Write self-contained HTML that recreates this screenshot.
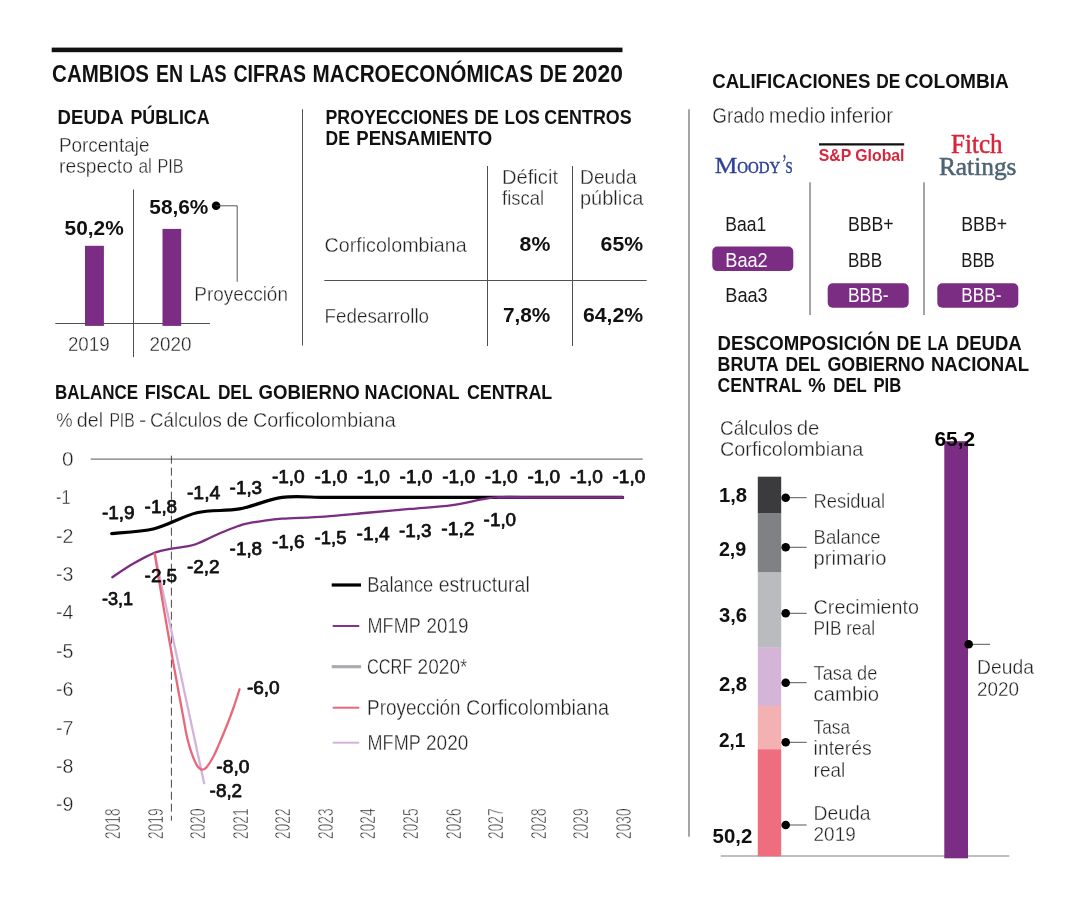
<!DOCTYPE html>
<html lang="es"><head><meta charset="utf-8"><title>Cambios en las cifras macroeconómicas de 2020</title>
<style>html,body{margin:0;padding:0;background:#fff;}body{width:1080px;height:900px;overflow:hidden;font-family:"Liberation Sans",sans-serif;}svg{display:block;will-change:transform;}text{white-space:pre;}</style></head>
<body>
<svg width="1080" height="900" viewBox="0 0 1080 900">
<rect x="51.70" y="47.60" width="570.80" height="4.60" fill="#111"/>
<text x="52.10" y="82.10" font-family="Liberation Sans, sans-serif" font-size="24.22" font-weight="bold" fill="#111" textLength="96.97" lengthAdjust="spacingAndGlyphs">CAMBIOS</text>
<text x="156.00" y="82.10" font-family="Liberation Sans, sans-serif" font-size="24.22" font-weight="bold" fill="#111" textLength="27.04" lengthAdjust="spacingAndGlyphs">EN</text>
<text x="189.60" y="82.10" font-family="Liberation Sans, sans-serif" font-size="24.22" font-weight="bold" fill="#111" textLength="37.03" lengthAdjust="spacingAndGlyphs">LAS</text>
<text x="233.50" y="82.10" font-family="Liberation Sans, sans-serif" font-size="24.22" font-weight="bold" fill="#111" textLength="72.64" lengthAdjust="spacingAndGlyphs">CIFRAS</text>
<text x="312.60" y="82.10" font-family="Liberation Sans, sans-serif" font-size="24.22" font-weight="bold" fill="#111" textLength="220.43" lengthAdjust="spacingAndGlyphs">MACROECONÓMICAS</text>
<text x="539.60" y="82.10" font-family="Liberation Sans, sans-serif" font-size="24.22" font-weight="bold" fill="#111" textLength="27.54" lengthAdjust="spacingAndGlyphs">DE</text>
<text x="572.20" y="82.10" font-family="Liberation Sans, sans-serif" font-size="24.22" font-weight="bold" fill="#111" textLength="50.68" lengthAdjust="spacingAndGlyphs">2020</text>
<text x="57.60" y="123.90" font-family="Liberation Sans, sans-serif" font-size="20.18" font-weight="bold" fill="#111" textLength="66.06" lengthAdjust="spacingAndGlyphs">DEUDA</text>
<text x="130.40" y="123.90" font-family="Liberation Sans, sans-serif" font-size="20.18" font-weight="bold" fill="#111" textLength="79.19" lengthAdjust="spacingAndGlyphs">PÚBLICA</text>
<text x="58.90" y="152.05" font-family="Liberation Sans, sans-serif" font-size="20.74" font-weight="normal" fill="#222" textLength="90.56" lengthAdjust="spacingAndGlyphs" stroke="#fff" stroke-width="0.36">Porcentaje</text>
<text x="59.10" y="172.85" font-family="Liberation Sans, sans-serif" font-size="20.74" font-weight="normal" fill="#222" textLength="73.84" lengthAdjust="spacingAndGlyphs" stroke="#fff" stroke-width="0.36">respecto</text>
<text x="138.50" y="172.85" font-family="Liberation Sans, sans-serif" font-size="20.74" font-weight="normal" fill="#222" textLength="13.44" lengthAdjust="spacingAndGlyphs" stroke="#fff" stroke-width="0.36">al</text>
<text x="157.40" y="172.85" font-family="Liberation Sans, sans-serif" font-size="20.74" font-weight="normal" fill="#222" textLength="26.12" lengthAdjust="spacingAndGlyphs" stroke="#fff" stroke-width="0.36">PIB</text>
<line x1="133.50" y1="189.50" x2="133.50" y2="357.20" stroke="#505050" stroke-width="1"/>
<line x1="55.30" y1="323.50" x2="210.00" y2="323.50" stroke="#505050" stroke-width="1"/>
<rect x="85.00" y="245.80" width="18.90" height="80.10" fill="#7b2c83"/>
<rect x="162.50" y="228.90" width="18.70" height="97.00" fill="#7b2c83"/>
<text x="64.60" y="234.70" font-family="Liberation Sans, sans-serif" font-size="20.8" font-weight="bold" fill="#111" textLength="59.08" lengthAdjust="spacingAndGlyphs">50,2%</text>
<text x="149.30" y="213.90" font-family="Liberation Sans, sans-serif" font-size="20.8" font-weight="bold" fill="#111" textLength="59.08" lengthAdjust="spacingAndGlyphs">58,6%</text>
<circle cx="216.10" cy="205.80" r="4.3" fill="#000"/>
<path d="M216,205.8 H237.2 V281.4" fill="none" stroke="#444" stroke-width="0.9" stroke-linecap="round" stroke-linejoin="round"/>
<text x="194.30" y="300.85" font-family="Liberation Sans, sans-serif" font-size="20.95" font-weight="normal" fill="#222" textLength="93.63" lengthAdjust="spacingAndGlyphs" stroke="#fff" stroke-width="0.36">Proyección</text>
<text x="67.90" y="350.85" font-family="Liberation Sans, sans-serif" font-size="20.32" font-weight="normal" fill="#222" textLength="41.70" lengthAdjust="spacingAndGlyphs" stroke="#fff" stroke-width="0.36">2019</text>
<text x="149.60" y="350.85" font-family="Liberation Sans, sans-serif" font-size="20.32" font-weight="normal" fill="#222" textLength="41.90" lengthAdjust="spacingAndGlyphs" stroke="#fff" stroke-width="0.36">2020</text>
<line x1="302.50" y1="109.30" x2="302.50" y2="345.50" stroke="#505050" stroke-width="1"/>
<text x="325.50" y="124.00" font-family="Liberation Sans, sans-serif" font-size="20.18" font-weight="bold" fill="#111" textLength="142.89" lengthAdjust="spacingAndGlyphs">PROYECCIONES</text>
<text x="474.30" y="124.00" font-family="Liberation Sans, sans-serif" font-size="20.18" font-weight="bold" fill="#111" textLength="24.43" lengthAdjust="spacingAndGlyphs">DE</text>
<text x="504.60" y="124.00" font-family="Liberation Sans, sans-serif" font-size="20.18" font-weight="bold" fill="#111" textLength="35.19" lengthAdjust="spacingAndGlyphs">LOS</text>
<text x="544.30" y="124.00" font-family="Liberation Sans, sans-serif" font-size="20.18" font-weight="bold" fill="#111" textLength="87.27" lengthAdjust="spacingAndGlyphs">CENTROS</text>
<text x="325.50" y="145.20" font-family="Liberation Sans, sans-serif" font-size="20.18" font-weight="bold" fill="#111" textLength="24.33" lengthAdjust="spacingAndGlyphs">DE</text>
<text x="356.30" y="145.20" font-family="Liberation Sans, sans-serif" font-size="20.18" font-weight="bold" fill="#111" textLength="135.83" lengthAdjust="spacingAndGlyphs">PENSAMIENTO</text>
<line x1="487.50" y1="166.00" x2="487.50" y2="346.00" stroke="#505050" stroke-width="1"/>
<line x1="572.50" y1="166.00" x2="572.50" y2="346.00" stroke="#505050" stroke-width="1"/>
<line x1="324.30" y1="280.50" x2="646.70" y2="280.50" stroke="#505050" stroke-width="1"/>
<text x="502.00" y="183.75" font-family="Liberation Sans, sans-serif" font-size="20.95" font-weight="normal" fill="#222" textLength="56.01" lengthAdjust="spacingAndGlyphs" stroke="#fff" stroke-width="0.36">Déficit</text>
<text x="502.00" y="204.75" font-family="Liberation Sans, sans-serif" font-size="20.95" font-weight="normal" fill="#222" textLength="42.03" lengthAdjust="spacingAndGlyphs" stroke="#fff" stroke-width="0.36">fiscal</text>
<text x="580.00" y="183.75" font-family="Liberation Sans, sans-serif" font-size="20.95" font-weight="normal" fill="#222" textLength="56.64" lengthAdjust="spacingAndGlyphs" stroke="#fff" stroke-width="0.36">Deuda</text>
<text x="580.00" y="204.75" font-family="Liberation Sans, sans-serif" font-size="20.95" font-weight="normal" fill="#222" textLength="63.39" lengthAdjust="spacingAndGlyphs" stroke="#fff" stroke-width="0.36">pública</text>
<text x="324.60" y="251.85" font-family="Liberation Sans, sans-serif" font-size="20.95" font-weight="normal" fill="#222" textLength="142.08" lengthAdjust="spacingAndGlyphs" stroke="#fff" stroke-width="0.36">Corficolombiana</text>
<text x="519.60" y="251.00" font-family="Liberation Sans, sans-serif" font-size="20.8" font-weight="bold" fill="#111" textLength="30.76" lengthAdjust="spacingAndGlyphs">8%</text>
<text x="600.60" y="251.00" font-family="Liberation Sans, sans-serif" font-size="20.8" font-weight="bold" fill="#111" textLength="42.53" lengthAdjust="spacingAndGlyphs">65%</text>
<text x="324.60" y="322.85" font-family="Liberation Sans, sans-serif" font-size="20.95" font-weight="normal" fill="#222" textLength="104.44" lengthAdjust="spacingAndGlyphs" stroke="#fff" stroke-width="0.36">Fedesarrollo</text>
<text x="502.90" y="322.30" font-family="Liberation Sans, sans-serif" font-size="20.8" font-weight="bold" fill="#111" textLength="47.51" lengthAdjust="spacingAndGlyphs">7,8%</text>
<text x="582.90" y="322.30" font-family="Liberation Sans, sans-serif" font-size="20.8" font-weight="bold" fill="#111" textLength="60.18" lengthAdjust="spacingAndGlyphs">64,2%</text>
<line x1="689.00" y1="109.30" x2="689.00" y2="836.70" stroke="#8f8f8f" stroke-width="1.6"/>
<text x="712.20" y="87.70" font-family="Liberation Sans, sans-serif" font-size="20.49" font-weight="bold" fill="#111" textLength="158.16" lengthAdjust="spacingAndGlyphs">CALIFICACIONES</text>
<text x="876.30" y="87.70" font-family="Liberation Sans, sans-serif" font-size="20.49" font-weight="bold" fill="#111" textLength="24.07" lengthAdjust="spacingAndGlyphs">DE</text>
<text x="904.80" y="87.70" font-family="Liberation Sans, sans-serif" font-size="20.49" font-weight="bold" fill="#111" textLength="104.14" lengthAdjust="spacingAndGlyphs">COLOMBIA</text>
<text x="712.30" y="122.85" font-family="Liberation Sans, sans-serif" font-size="21.16" font-weight="normal" fill="#222" textLength="52.31" lengthAdjust="spacingAndGlyphs" stroke="#fff" stroke-width="0.36">Grado</text>
<text x="768.70" y="122.85" font-family="Liberation Sans, sans-serif" font-size="21.16" font-weight="normal" fill="#222" textLength="57.03" lengthAdjust="spacingAndGlyphs" stroke="#fff" stroke-width="0.36">medio</text>
<text x="829.90" y="122.85" font-family="Liberation Sans, sans-serif" font-size="21.16" font-weight="normal" fill="#222" textLength="63.38" lengthAdjust="spacingAndGlyphs" stroke="#fff" stroke-width="0.36">inferior</text>
<text x="714.80" y="173.40" font-family="Liberation Serif, serif" font-size="22.15" font-weight="normal" fill="#2d4196" textLength="22.59" lengthAdjust="spacingAndGlyphs" stroke="#2d4196" stroke-width="0.3" stroke-linejoin="round">M</text>
<text x="737.20" y="173.40" font-family="Liberation Serif, serif" font-size="16.35" font-weight="normal" fill="#2d4196" textLength="43.03" lengthAdjust="spacingAndGlyphs" stroke="#2d4196" stroke-width="0.45" stroke-linejoin="round">OODY</text>
<text x="782.00" y="171.60" font-family="Liberation Serif, serif" font-size="25.87" font-weight="normal" fill="#2d4196" textLength="4.81" lengthAdjust="spacingAndGlyphs" stroke="#2d4196" stroke-width="0.3" stroke-linejoin="round">’</text>
<text x="785.40" y="173.40" font-family="Liberation Serif, serif" font-size="16.35" font-weight="normal" fill="#2d4196" textLength="7.20" lengthAdjust="spacingAndGlyphs" stroke="#2d4196" stroke-width="0.45" stroke-linejoin="round">S</text>
<line x1="819.00" y1="144.30" x2="904.20" y2="144.30" stroke="#111" stroke-width="2.3"/>
<text x="818.70" y="161.10" font-family="Liberation Sans, sans-serif" font-size="16.77" font-weight="bold" fill="#d7263d" textLength="85.81" lengthAdjust="spacingAndGlyphs">S&amp;P Global</text>
<text x="951.10" y="153.10" font-family="Liberation Serif, serif" font-size="26.5" font-weight="normal" fill="#d8253b" textLength="51.48" lengthAdjust="spacingAndGlyphs" stroke="#d8253b" stroke-width="0.5" stroke-linejoin="round">Fitch</text>
<text x="938.90" y="174.80" font-family="Liberation Serif, serif" font-size="26.19" font-weight="normal" fill="#4e6473" textLength="77.63" lengthAdjust="spacingAndGlyphs" stroke="#4e6473" stroke-width="0.5" stroke-linejoin="round">Ratings</text>
<line x1="810.00" y1="182.30" x2="810.00" y2="315.00" stroke="#8f8f8f" stroke-width="1.6"/>
<line x1="924.00" y1="182.30" x2="924.00" y2="315.00" stroke="#8f8f8f" stroke-width="1.6"/>
<text x="725.30" y="231.40" font-family="Liberation Sans, sans-serif" font-size="20.91" font-weight="normal" fill="#1a1a1a" textLength="40.83" lengthAdjust="spacingAndGlyphs">Baa1</text>
<rect x="712.30" y="246.50" width="81.00" height="24.60" fill="#7b2c83" rx="5"/>
<text x="725.30" y="266.70" font-family="Liberation Sans, sans-serif" font-size="20.91" font-weight="normal" fill="#fff" textLength="42.43" lengthAdjust="spacingAndGlyphs">Baa2</text>
<text x="725.30" y="302.40" font-family="Liberation Sans, sans-serif" font-size="20.91" font-weight="normal" fill="#1a1a1a" textLength="42.43" lengthAdjust="spacingAndGlyphs">Baa3</text>
<text x="847.90" y="231.40" font-family="Liberation Sans, sans-serif" font-size="20.91" font-weight="normal" fill="#1a1a1a" textLength="45.76" lengthAdjust="spacingAndGlyphs">BBB+</text>
<text x="847.90" y="266.70" font-family="Liberation Sans, sans-serif" font-size="20.91" font-weight="normal" fill="#1a1a1a" textLength="34.23" lengthAdjust="spacingAndGlyphs">BBB</text>
<rect x="827.70" y="283.30" width="81.00" height="24.40" fill="#7b2c83" rx="5"/>
<text x="847.90" y="302.40" font-family="Liberation Sans, sans-serif" font-size="20.91" font-weight="normal" fill="#fff" textLength="40.80" lengthAdjust="spacingAndGlyphs">BBB-</text>
<text x="961.30" y="231.40" font-family="Liberation Sans, sans-serif" font-size="20.91" font-weight="normal" fill="#1a1a1a" textLength="45.76" lengthAdjust="spacingAndGlyphs">BBB+</text>
<text x="961.30" y="266.70" font-family="Liberation Sans, sans-serif" font-size="20.91" font-weight="normal" fill="#1a1a1a" textLength="33.43" lengthAdjust="spacingAndGlyphs">BBB</text>
<rect x="937.30" y="283.30" width="81.00" height="24.40" fill="#7b2c83" rx="5"/>
<text x="961.30" y="302.40" font-family="Liberation Sans, sans-serif" font-size="20.91" font-weight="normal" fill="#fff" textLength="40.10" lengthAdjust="spacingAndGlyphs">BBB-</text>
<text x="717.60" y="349.60" font-family="Liberation Sans, sans-serif" font-size="20.18" font-weight="bold" fill="#111" textLength="172.54" lengthAdjust="spacingAndGlyphs">DESCOMPOSICIÓN</text>
<text x="896.60" y="349.60" font-family="Liberation Sans, sans-serif" font-size="20.18" font-weight="bold" fill="#111" textLength="24.63" lengthAdjust="spacingAndGlyphs">DE</text>
<text x="927.60" y="349.60" font-family="Liberation Sans, sans-serif" font-size="20.18" font-weight="bold" fill="#111" textLength="21.10" lengthAdjust="spacingAndGlyphs">LA</text>
<text x="955.90" y="349.60" font-family="Liberation Sans, sans-serif" font-size="20.18" font-weight="bold" fill="#111" textLength="65.76" lengthAdjust="spacingAndGlyphs">DEUDA</text>
<text x="717.60" y="370.90" font-family="Liberation Sans, sans-serif" font-size="20.18" font-weight="bold" fill="#111" textLength="61.12" lengthAdjust="spacingAndGlyphs">BRUTA</text>
<text x="785.40" y="370.90" font-family="Liberation Sans, sans-serif" font-size="20.18" font-weight="bold" fill="#111" textLength="34.96" lengthAdjust="spacingAndGlyphs">DEL</text>
<text x="827.40" y="370.90" font-family="Liberation Sans, sans-serif" font-size="20.18" font-weight="bold" fill="#111" textLength="97.18" lengthAdjust="spacingAndGlyphs">GOBIERNO</text>
<text x="930.90" y="370.90" font-family="Liberation Sans, sans-serif" font-size="20.18" font-weight="bold" fill="#111" textLength="98.20" lengthAdjust="spacingAndGlyphs">NACIONAL</text>
<text x="717.60" y="392.30" font-family="Liberation Sans, sans-serif" font-size="20.18" font-weight="bold" fill="#111" textLength="84.11" lengthAdjust="spacingAndGlyphs">CENTRAL</text>
<text x="808.30" y="392.30" font-family="Liberation Sans, sans-serif" font-size="20.18" font-weight="bold" fill="#111" textLength="17.44" lengthAdjust="spacingAndGlyphs">%</text>
<text x="833.30" y="392.30" font-family="Liberation Sans, sans-serif" font-size="20.18" font-weight="bold" fill="#111" textLength="33.57" lengthAdjust="spacingAndGlyphs">DEL</text>
<text x="873.40" y="392.30" font-family="Liberation Sans, sans-serif" font-size="20.18" font-weight="bold" fill="#111" textLength="27.83" lengthAdjust="spacingAndGlyphs">PIB</text>
<text x="720.10" y="434.85" font-family="Liberation Sans, sans-serif" font-size="20.95" font-weight="normal" fill="#222" textLength="72.54" lengthAdjust="spacingAndGlyphs" stroke="#fff" stroke-width="0.36">Cálculos</text>
<text x="796.70" y="434.85" font-family="Liberation Sans, sans-serif" font-size="20.95" font-weight="normal" fill="#222" textLength="22.70" lengthAdjust="spacingAndGlyphs" stroke="#fff" stroke-width="0.36">de</text>
<text x="720.00" y="456.25" font-family="Liberation Sans, sans-serif" font-size="20.95" font-weight="normal" fill="#222" textLength="143.38" lengthAdjust="spacingAndGlyphs" stroke="#fff" stroke-width="0.36">Corficolombiana</text>
<line x1="720.70" y1="856.00" x2="1009.30" y2="856.00" stroke="#7f7f7f" stroke-width="1.1"/>
<rect x="944.30" y="441.20" width="23.70" height="417.10" fill="#7b2c83"/>
<text x="934.50" y="445.60" font-family="Liberation Sans, sans-serif" font-size="20.29" font-weight="bold" fill="#000" textLength="40.59" lengthAdjust="spacingAndGlyphs">65,2</text>
<rect x="757.80" y="476.70" width="23.40" height="36.90" fill="#3b3b3d"/>
<rect x="757.80" y="513.30" width="23.40" height="59.30" fill="#808184"/>
<rect x="757.80" y="572.30" width="23.40" height="75.30" fill="#babbbf"/>
<rect x="757.80" y="647.30" width="23.40" height="58.70" fill="#d4b5d8"/>
<rect x="757.80" y="705.70" width="23.40" height="43.90" fill="#f3b1b2"/>
<rect x="757.80" y="749.30" width="23.40" height="107.00" fill="#ee6e7e"/>
<text x="718.90" y="502.20" font-family="Liberation Sans, sans-serif" font-size="19.46" font-weight="bold" fill="#111" textLength="28.15" lengthAdjust="spacingAndGlyphs">1,8</text>
<text x="718.90" y="555.50" font-family="Liberation Sans, sans-serif" font-size="19.46" font-weight="bold" fill="#111" textLength="27.45" lengthAdjust="spacingAndGlyphs">2,9</text>
<text x="718.90" y="622.20" font-family="Liberation Sans, sans-serif" font-size="19.46" font-weight="bold" fill="#111" textLength="28.15" lengthAdjust="spacingAndGlyphs">3,6</text>
<text x="718.90" y="691.20" font-family="Liberation Sans, sans-serif" font-size="19.46" font-weight="bold" fill="#111" textLength="28.15" lengthAdjust="spacingAndGlyphs">2,8</text>
<text x="718.90" y="747.20" font-family="Liberation Sans, sans-serif" font-size="19.46" font-weight="bold" fill="#111" textLength="26.45" lengthAdjust="spacingAndGlyphs">2,1</text>
<text x="712.60" y="842.80" font-family="Liberation Sans, sans-serif" font-size="19.46" font-weight="bold" fill="#111" textLength="39.77" lengthAdjust="spacingAndGlyphs">50,2</text>
<line x1="785.70" y1="497.70" x2="806.70" y2="497.70" stroke="#444" stroke-width="0.9"/>
<circle cx="785.70" cy="497.70" r="4.3" fill="#000"/>
<line x1="785.70" y1="547.30" x2="806.70" y2="547.30" stroke="#444" stroke-width="0.9"/>
<circle cx="785.70" cy="547.30" r="4.3" fill="#000"/>
<line x1="785.70" y1="613.30" x2="806.70" y2="613.30" stroke="#444" stroke-width="0.9"/>
<circle cx="785.70" cy="613.30" r="4.3" fill="#000"/>
<line x1="785.70" y1="682.70" x2="806.70" y2="682.70" stroke="#444" stroke-width="0.9"/>
<circle cx="785.70" cy="682.70" r="4.3" fill="#000"/>
<line x1="785.70" y1="742.30" x2="806.70" y2="742.30" stroke="#444" stroke-width="0.9"/>
<circle cx="785.70" cy="742.30" r="4.3" fill="#000"/>
<line x1="785.70" y1="825.00" x2="806.70" y2="825.00" stroke="#444" stroke-width="0.9"/>
<circle cx="785.70" cy="825.00" r="4.3" fill="#000"/>
<text x="813.60" y="508.45" font-family="Liberation Sans, sans-serif" font-size="20.95" font-weight="normal" fill="#222" textLength="71.42" lengthAdjust="spacingAndGlyphs" stroke="#fff" stroke-width="0.36">Residual</text>
<text x="813.60" y="544.45" font-family="Liberation Sans, sans-serif" font-size="20.95" font-weight="normal" fill="#222" textLength="67.11" lengthAdjust="spacingAndGlyphs" stroke="#fff" stroke-width="0.36">Balance</text>
<text x="813.60" y="565.45" font-family="Liberation Sans, sans-serif" font-size="20.95" font-weight="normal" fill="#222" textLength="72.77" lengthAdjust="spacingAndGlyphs" stroke="#fff" stroke-width="0.36">primario</text>
<text x="813.60" y="614.45" font-family="Liberation Sans, sans-serif" font-size="20.95" font-weight="normal" fill="#222" textLength="105.37" lengthAdjust="spacingAndGlyphs" stroke="#fff" stroke-width="0.36">Crecimiento</text>
<text x="813.60" y="635.15" font-family="Liberation Sans, sans-serif" font-size="20.95" font-weight="normal" fill="#222" textLength="61.42" lengthAdjust="spacingAndGlyphs" stroke="#fff" stroke-width="0.36">PIB real</text>
<text x="813.60" y="680.45" font-family="Liberation Sans, sans-serif" font-size="20.95" font-weight="normal" fill="#222" textLength="63.78" lengthAdjust="spacingAndGlyphs" stroke="#fff" stroke-width="0.36">Tasa de</text>
<text x="813.60" y="701.15" font-family="Liberation Sans, sans-serif" font-size="20.95" font-weight="normal" fill="#222" textLength="65.43" lengthAdjust="spacingAndGlyphs" stroke="#fff" stroke-width="0.36">cambio</text>
<text x="813.60" y="733.85" font-family="Liberation Sans, sans-serif" font-size="20.95" font-weight="normal" fill="#222" textLength="36.36" lengthAdjust="spacingAndGlyphs" stroke="#fff" stroke-width="0.36">Tasa</text>
<text x="813.60" y="755.15" font-family="Liberation Sans, sans-serif" font-size="20.95" font-weight="normal" fill="#222" textLength="58.08" lengthAdjust="spacingAndGlyphs" stroke="#fff" stroke-width="0.36">interés</text>
<text x="813.60" y="776.55" font-family="Liberation Sans, sans-serif" font-size="20.95" font-weight="normal" fill="#222" textLength="31.53" lengthAdjust="spacingAndGlyphs" stroke="#fff" stroke-width="0.36">real</text>
<text x="813.60" y="820.15" font-family="Liberation Sans, sans-serif" font-size="20.95" font-weight="normal" fill="#222" textLength="57.04" lengthAdjust="spacingAndGlyphs" stroke="#fff" stroke-width="0.36">Deuda</text>
<text x="813.60" y="841.15" font-family="Liberation Sans, sans-serif" font-size="20.95" font-weight="normal" fill="#222" textLength="42.11" lengthAdjust="spacingAndGlyphs" stroke="#fff" stroke-width="0.36">2019</text>
<line x1="968.70" y1="644.30" x2="990.00" y2="644.30" stroke="#444" stroke-width="0.9"/>
<circle cx="968.70" cy="644.30" r="4.3" fill="#000"/>
<text x="977.00" y="674.35" font-family="Liberation Sans, sans-serif" font-size="20.95" font-weight="normal" fill="#222" textLength="56.94" lengthAdjust="spacingAndGlyphs" stroke="#fff" stroke-width="0.36">Deuda</text>
<text x="977.00" y="696.05" font-family="Liberation Sans, sans-serif" font-size="20.95" font-weight="normal" fill="#222" textLength="42.01" lengthAdjust="spacingAndGlyphs" stroke="#fff" stroke-width="0.36">2020</text>
<text x="55.10" y="399.30" font-family="Liberation Sans, sans-serif" font-size="20.49" font-weight="bold" fill="#111" textLength="83.07" lengthAdjust="spacingAndGlyphs">BALANCE</text>
<text x="144.70" y="399.30" font-family="Liberation Sans, sans-serif" font-size="20.49" font-weight="bold" fill="#111" textLength="65.68" lengthAdjust="spacingAndGlyphs">FISCAL</text>
<text x="217.90" y="399.30" font-family="Liberation Sans, sans-serif" font-size="20.49" font-weight="bold" fill="#111" textLength="34.58" lengthAdjust="spacingAndGlyphs">DEL</text>
<text x="258.60" y="399.30" font-family="Liberation Sans, sans-serif" font-size="20.49" font-weight="bold" fill="#111" textLength="101.16" lengthAdjust="spacingAndGlyphs">GOBIERNO</text>
<text x="364.50" y="399.30" font-family="Liberation Sans, sans-serif" font-size="20.49" font-weight="bold" fill="#111" textLength="95.13" lengthAdjust="spacingAndGlyphs">NACIONAL</text>
<text x="466.90" y="399.30" font-family="Liberation Sans, sans-serif" font-size="20.49" font-weight="bold" fill="#111" textLength="85.39" lengthAdjust="spacingAndGlyphs">CENTRAL</text>
<text x="56.20" y="427.45" font-family="Liberation Sans, sans-serif" font-size="20.53" font-weight="normal" fill="#222" textLength="16.36" lengthAdjust="spacingAndGlyphs" stroke="#fff" stroke-width="0.36">%</text>
<text x="76.80" y="427.45" font-family="Liberation Sans, sans-serif" font-size="20.53" font-weight="normal" fill="#222" textLength="26.30" lengthAdjust="spacingAndGlyphs" stroke="#fff" stroke-width="0.36">del</text>
<text x="109.40" y="427.45" font-family="Liberation Sans, sans-serif" font-size="20.53" font-weight="normal" fill="#222" textLength="25.29" lengthAdjust="spacingAndGlyphs" stroke="#fff" stroke-width="0.36">PIB</text>
<text x="139.10" y="427.45" font-family="Liberation Sans, sans-serif" font-size="20.53" font-weight="normal" fill="#222" textLength="7.34" lengthAdjust="spacingAndGlyphs" stroke="#fff" stroke-width="0.36">-</text>
<text x="150.10" y="427.45" font-family="Liberation Sans, sans-serif" font-size="20.53" font-weight="normal" fill="#222" textLength="71.73" lengthAdjust="spacingAndGlyphs" stroke="#fff" stroke-width="0.36">Cálculos</text>
<text x="226.50" y="427.45" font-family="Liberation Sans, sans-serif" font-size="20.53" font-weight="normal" fill="#222" textLength="22.03" lengthAdjust="spacingAndGlyphs" stroke="#fff" stroke-width="0.36">de</text>
<text x="252.90" y="427.45" font-family="Liberation Sans, sans-serif" font-size="20.53" font-weight="normal" fill="#222" textLength="142.74" lengthAdjust="spacingAndGlyphs" stroke="#fff" stroke-width="0.36">Corficolombiana</text>
<line x1="90.70" y1="459.20" x2="642.70" y2="459.20" stroke="#777" stroke-width="1.2"/>
<text x="62.00" y="465.85" font-family="Liberation Sans, sans-serif" font-size="20.32" font-weight="normal" fill="#222" textLength="11.50" lengthAdjust="spacingAndGlyphs" stroke="#fff" stroke-width="0.36">0</text>
<text x="56.00" y="504.25" font-family="Liberation Sans, sans-serif" font-size="20.32" font-weight="normal" fill="#222" textLength="14.47" lengthAdjust="spacingAndGlyphs" stroke="#fff" stroke-width="0.36">-1</text>
<text x="56.00" y="542.65" font-family="Liberation Sans, sans-serif" font-size="20.32" font-weight="normal" fill="#222" textLength="17.47" lengthAdjust="spacingAndGlyphs" stroke="#fff" stroke-width="0.36">-2</text>
<text x="56.00" y="581.05" font-family="Liberation Sans, sans-serif" font-size="20.32" font-weight="normal" fill="#222" textLength="17.47" lengthAdjust="spacingAndGlyphs" stroke="#fff" stroke-width="0.36">-3</text>
<text x="56.00" y="619.45" font-family="Liberation Sans, sans-serif" font-size="20.32" font-weight="normal" fill="#222" textLength="17.47" lengthAdjust="spacingAndGlyphs" stroke="#fff" stroke-width="0.36">-4</text>
<text x="56.00" y="657.85" font-family="Liberation Sans, sans-serif" font-size="20.32" font-weight="normal" fill="#222" textLength="17.47" lengthAdjust="spacingAndGlyphs" stroke="#fff" stroke-width="0.36">-5</text>
<text x="56.00" y="696.25" font-family="Liberation Sans, sans-serif" font-size="20.32" font-weight="normal" fill="#222" textLength="17.47" lengthAdjust="spacingAndGlyphs" stroke="#fff" stroke-width="0.36">-6</text>
<text x="56.00" y="734.65" font-family="Liberation Sans, sans-serif" font-size="20.32" font-weight="normal" fill="#222" textLength="17.47" lengthAdjust="spacingAndGlyphs" stroke="#fff" stroke-width="0.36">-7</text>
<text x="56.00" y="773.05" font-family="Liberation Sans, sans-serif" font-size="20.32" font-weight="normal" fill="#222" textLength="17.47" lengthAdjust="spacingAndGlyphs" stroke="#fff" stroke-width="0.36">-8</text>
<text x="56.00" y="811.45" font-family="Liberation Sans, sans-serif" font-size="20.32" font-weight="normal" fill="#222" textLength="17.47" lengthAdjust="spacingAndGlyphs" stroke="#fff" stroke-width="0.36">-9</text>
<line x1="171.40" y1="455.70" x2="171.40" y2="820.70" stroke="#333" stroke-width="0.9" stroke-dasharray="8 4"/>
<path d="M111.70,533.60 C118.80,532.79 140.09,532.19 154.28,528.72 C168.47,525.25 182.67,516.06 196.86,512.76 C211.05,509.46 225.25,511.48 239.44,508.92 C253.63,506.36 267.83,499.32 282.02,497.40 C296.21,495.48 310.41,497.40 324.60,497.40 C338.79,497.40 352.99,497.40 367.18,497.40 C381.37,497.40 395.57,497.40 409.76,497.40 C423.95,497.40 438.15,497.40 452.34,497.40 C466.53,497.40 480.73,497.40 494.92,497.40 C509.11,497.40 523.31,497.40 537.50,497.40 C551.69,497.40 565.89,497.40 580.08,497.40 C594.27,497.40 615.56,497.40 622.66,497.40" fill="none" stroke="#000" stroke-width="3.2" stroke-linecap="round" stroke-linejoin="round"/>
<path d="M112.30,577.20 C115.75,574.97 125.88,567.90 133.00,563.80 C140.12,559.70 148.55,555.12 155.00,552.60 C161.45,550.08 166.15,549.77 171.70,548.70 C177.25,547.63 183.87,547.12 188.30,546.20 C192.73,545.28 194.40,544.73 198.30,543.20 C202.20,541.67 206.70,539.23 211.70,537.00 C216.70,534.77 223.87,531.63 228.30,529.80 C232.73,527.97 235.23,527.03 238.30,526.00 C241.37,524.97 242.53,524.47 246.70,523.60 C250.87,522.73 257.42,521.62 263.30,520.80 C269.18,519.98 271.78,519.40 282.00,518.70 C292.22,518.00 310.40,517.59 324.60,516.60 C338.80,515.61 352.99,514.04 367.18,512.76 C381.37,511.48 395.57,510.20 409.76,508.92 C423.95,507.64 438.15,507.00 452.34,505.08 C466.53,503.16 480.73,498.68 494.92,497.40 C509.11,496.12 523.31,497.40 537.50,497.40 C551.69,497.40 565.89,497.40 580.08,497.40 C594.27,497.40 615.56,497.40 622.66,497.40" fill="none" stroke="#7b2c83" stroke-width="2.3" stroke-linecap="round" stroke-linejoin="round"/>
<path d="M497.92,497.40 H622.66" fill="none" stroke="#7b2c83" stroke-width="2.5" stroke-linecap="round" stroke-linejoin="round"/>
<path d="M154.8,554 L204.1,783.2" fill="none" stroke="#d3b3d9" stroke-width="2.3" stroke-linecap="round" stroke-linejoin="round"/>
<path d="M154.80,554.00 C155.83,560.33 158.88,579.33 161.00,592.00 C163.12,604.67 165.08,616.17 167.50,630.00 C169.92,643.83 172.78,660.00 175.50,675.00 C178.22,690.00 182.07,710.55 183.80,720.00 C185.53,729.45 185.10,727.82 185.90,731.70 C186.70,735.58 187.63,739.68 188.60,743.30 C189.57,746.92 190.67,750.42 191.70,753.40 C192.73,756.38 193.73,758.92 194.80,761.20 C195.87,763.48 196.90,765.68 198.10,767.10 C199.30,768.52 200.68,769.57 202.00,769.70 C203.32,769.83 204.62,769.18 206.00,767.90 C207.38,766.62 208.93,764.15 210.30,762.00 C211.67,759.85 212.90,757.60 214.20,755.00 C215.50,752.40 216.80,749.35 218.10,746.40 C219.40,743.45 220.65,740.53 222.00,737.30 C223.35,734.07 224.87,730.32 226.20,727.00 C227.53,723.68 228.80,720.57 230.00,717.40 C231.20,714.23 232.30,711.15 233.40,708.00 C234.50,704.85 235.58,701.62 236.60,698.50 C237.62,695.38 239.02,690.83 239.50,689.30" fill="none" stroke="#e8687a" stroke-width="2.3" stroke-linecap="round" stroke-linejoin="round"/>
<text x="101.90" y="518.60" font-family="Liberation Sans, sans-serif" font-size="18.94" font-weight="normal" fill="#111" textLength="32.83" lengthAdjust="spacingAndGlyphs" stroke="#111" stroke-width="0.75" stroke-linejoin="round">-1,9</text>
<text x="144.60" y="513.00" font-family="Liberation Sans, sans-serif" font-size="18.94" font-weight="normal" fill="#111" textLength="32.53" lengthAdjust="spacingAndGlyphs" stroke="#111" stroke-width="0.75" stroke-linejoin="round">-1,8</text>
<text x="186.90" y="498.60" font-family="Liberation Sans, sans-serif" font-size="18.94" font-weight="normal" fill="#111" textLength="33.54" lengthAdjust="spacingAndGlyphs" stroke="#111" stroke-width="0.75" stroke-linejoin="round">-1,4</text>
<text x="229.60" y="493.60" font-family="Liberation Sans, sans-serif" font-size="18.94" font-weight="normal" fill="#111" textLength="32.53" lengthAdjust="spacingAndGlyphs" stroke="#111" stroke-width="0.75" stroke-linejoin="round">-1,3</text>
<text x="271.90" y="482.60" font-family="Liberation Sans, sans-serif" font-size="18.94" font-weight="normal" fill="#111" textLength="32.83" lengthAdjust="spacingAndGlyphs" stroke="#111" stroke-width="0.75" stroke-linejoin="round">-1,0</text>
<text x="314.48" y="482.60" font-family="Liberation Sans, sans-serif" font-size="18.94" font-weight="normal" fill="#111" textLength="32.83" lengthAdjust="spacingAndGlyphs" stroke="#111" stroke-width="0.75" stroke-linejoin="round">-1,0</text>
<text x="357.06" y="482.60" font-family="Liberation Sans, sans-serif" font-size="18.94" font-weight="normal" fill="#111" textLength="32.83" lengthAdjust="spacingAndGlyphs" stroke="#111" stroke-width="0.75" stroke-linejoin="round">-1,0</text>
<text x="399.64" y="482.60" font-family="Liberation Sans, sans-serif" font-size="18.94" font-weight="normal" fill="#111" textLength="32.83" lengthAdjust="spacingAndGlyphs" stroke="#111" stroke-width="0.75" stroke-linejoin="round">-1,0</text>
<text x="442.22" y="482.60" font-family="Liberation Sans, sans-serif" font-size="18.94" font-weight="normal" fill="#111" textLength="32.83" lengthAdjust="spacingAndGlyphs" stroke="#111" stroke-width="0.75" stroke-linejoin="round">-1,0</text>
<text x="484.80" y="482.60" font-family="Liberation Sans, sans-serif" font-size="18.94" font-weight="normal" fill="#111" textLength="32.83" lengthAdjust="spacingAndGlyphs" stroke="#111" stroke-width="0.75" stroke-linejoin="round">-1,0</text>
<text x="527.38" y="482.60" font-family="Liberation Sans, sans-serif" font-size="18.94" font-weight="normal" fill="#111" textLength="32.83" lengthAdjust="spacingAndGlyphs" stroke="#111" stroke-width="0.75" stroke-linejoin="round">-1,0</text>
<text x="569.96" y="482.60" font-family="Liberation Sans, sans-serif" font-size="18.94" font-weight="normal" fill="#111" textLength="32.83" lengthAdjust="spacingAndGlyphs" stroke="#111" stroke-width="0.75" stroke-linejoin="round">-1,0</text>
<text x="612.54" y="482.60" font-family="Liberation Sans, sans-serif" font-size="18.94" font-weight="normal" fill="#111" textLength="32.83" lengthAdjust="spacingAndGlyphs" stroke="#111" stroke-width="0.75" stroke-linejoin="round">-1,0</text>
<text x="101.90" y="605.30" font-family="Liberation Sans, sans-serif" font-size="18.94" font-weight="normal" fill="#111" textLength="31.23" lengthAdjust="spacingAndGlyphs" stroke="#111" stroke-width="0.75" stroke-linejoin="round">-3,1</text>
<text x="144.60" y="582.00" font-family="Liberation Sans, sans-serif" font-size="18.94" font-weight="normal" fill="#111" textLength="32.53" lengthAdjust="spacingAndGlyphs" stroke="#111" stroke-width="0.75" stroke-linejoin="round">-2,5</text>
<text x="186.90" y="572.60" font-family="Liberation Sans, sans-serif" font-size="18.94" font-weight="normal" fill="#111" textLength="32.83" lengthAdjust="spacingAndGlyphs" stroke="#111" stroke-width="0.75" stroke-linejoin="round">-2,2</text>
<text x="229.60" y="554.60" font-family="Liberation Sans, sans-serif" font-size="18.94" font-weight="normal" fill="#111" textLength="32.53" lengthAdjust="spacingAndGlyphs" stroke="#111" stroke-width="0.75" stroke-linejoin="round">-1,8</text>
<text x="271.90" y="547.60" font-family="Liberation Sans, sans-serif" font-size="18.94" font-weight="normal" fill="#111" textLength="32.83" lengthAdjust="spacingAndGlyphs" stroke="#111" stroke-width="0.75" stroke-linejoin="round">-1,6</text>
<text x="314.60" y="543.60" font-family="Liberation Sans, sans-serif" font-size="18.94" font-weight="normal" fill="#111" textLength="31.83" lengthAdjust="spacingAndGlyphs" stroke="#111" stroke-width="0.75" stroke-linejoin="round">-1,5</text>
<text x="356.60" y="540.30" font-family="Liberation Sans, sans-serif" font-size="18.94" font-weight="normal" fill="#111" textLength="33.13" lengthAdjust="spacingAndGlyphs" stroke="#111" stroke-width="0.75" stroke-linejoin="round">-1,4</text>
<text x="398.90" y="537.00" font-family="Liberation Sans, sans-serif" font-size="18.94" font-weight="normal" fill="#111" textLength="32.53" lengthAdjust="spacingAndGlyphs" stroke="#111" stroke-width="0.75" stroke-linejoin="round">-1,3</text>
<text x="441.30" y="534.60" font-family="Liberation Sans, sans-serif" font-size="18.94" font-weight="normal" fill="#111" textLength="33.13" lengthAdjust="spacingAndGlyphs" stroke="#111" stroke-width="0.75" stroke-linejoin="round">-1,2</text>
<text x="483.60" y="526.30" font-family="Liberation Sans, sans-serif" font-size="18.94" font-weight="normal" fill="#111" textLength="32.53" lengthAdjust="spacingAndGlyphs" stroke="#111" stroke-width="0.75" stroke-linejoin="round">-1,0</text>
<text x="246.90" y="694.30" font-family="Liberation Sans, sans-serif" font-size="18.94" font-weight="normal" fill="#111" textLength="32.83" lengthAdjust="spacingAndGlyphs" stroke="#111" stroke-width="0.75" stroke-linejoin="round">-6,0</text>
<text x="216.30" y="773.00" font-family="Liberation Sans, sans-serif" font-size="18.94" font-weight="normal" fill="#111" textLength="33.13" lengthAdjust="spacingAndGlyphs" stroke="#111" stroke-width="0.75" stroke-linejoin="round">-8,0</text>
<text x="209.60" y="797.00" font-family="Liberation Sans, sans-serif" font-size="18.94" font-weight="normal" fill="#111" textLength="32.53" lengthAdjust="spacingAndGlyphs" stroke="#111" stroke-width="0.75" stroke-linejoin="round">-8,2</text>
<line x1="331.70" y1="585.00" x2="361.00" y2="585.00" stroke="#000" stroke-width="3.2"/>
<line x1="332.70" y1="626.00" x2="359.30" y2="626.00" stroke="#7b2c83" stroke-width="1.9"/>
<line x1="331.70" y1="666.70" x2="361.00" y2="666.70" stroke="#a9abae" stroke-width="3.2"/>
<line x1="332.70" y1="707.70" x2="359.30" y2="707.70" stroke="#e8687a" stroke-width="2"/>
<line x1="332.70" y1="742.70" x2="359.30" y2="742.70" stroke="#d3b3d9" stroke-width="2"/>
<text x="367.20" y="592.25" font-family="Liberation Sans, sans-serif" font-size="21.58" font-weight="normal" fill="#222" textLength="65.99" lengthAdjust="spacingAndGlyphs" stroke="#fff" stroke-width="0.36">Balance</text>
<text x="438.70" y="592.25" font-family="Liberation Sans, sans-serif" font-size="21.58" font-weight="normal" fill="#222" textLength="91.04" lengthAdjust="spacingAndGlyphs" stroke="#fff" stroke-width="0.36">estructural</text>
<text x="367.60" y="633.25" font-family="Liberation Sans, sans-serif" font-size="21.58" font-weight="normal" fill="#222" textLength="53.12" lengthAdjust="spacingAndGlyphs" stroke="#fff" stroke-width="0.36">MFMP</text>
<text x="426.60" y="633.25" font-family="Liberation Sans, sans-serif" font-size="21.58" font-weight="normal" fill="#222" textLength="41.81" lengthAdjust="spacingAndGlyphs" stroke="#fff" stroke-width="0.36">2019</text>
<text x="367.00" y="673.85" font-family="Liberation Sans, sans-serif" font-size="21.58" font-weight="normal" fill="#222" textLength="45.43" lengthAdjust="spacingAndGlyphs" stroke="#fff" stroke-width="0.36">CCRF</text>
<text x="417.60" y="673.85" font-family="Liberation Sans, sans-serif" font-size="21.58" font-weight="normal" fill="#222" textLength="49.80" lengthAdjust="spacingAndGlyphs" stroke="#fff" stroke-width="0.36">2020*</text>
<text x="367.00" y="714.55" font-family="Liberation Sans, sans-serif" font-size="21.58" font-weight="normal" fill="#222" textLength="93.66" lengthAdjust="spacingAndGlyphs" stroke="#fff" stroke-width="0.36">Proyección</text>
<text x="466.00" y="714.55" font-family="Liberation Sans, sans-serif" font-size="21.58" font-weight="normal" fill="#222" textLength="142.93" lengthAdjust="spacingAndGlyphs" stroke="#fff" stroke-width="0.36">Corficolombiana</text>
<text x="367.60" y="749.85" font-family="Liberation Sans, sans-serif" font-size="21.58" font-weight="normal" fill="#222" textLength="53.12" lengthAdjust="spacingAndGlyphs" stroke="#fff" stroke-width="0.36">MFMP</text>
<text x="426.00" y="749.85" font-family="Liberation Sans, sans-serif" font-size="21.58" font-weight="normal" fill="#222" textLength="42.41" lengthAdjust="spacingAndGlyphs" stroke="#fff" stroke-width="0.36">2020</text>
<text x="0.00" y="0.00" font-family="Liberation Sans, sans-serif" font-size="21.4" font-weight="normal" fill="#222" textLength="30.50" lengthAdjust="spacingAndGlyphs" stroke="#fff" stroke-width="0.6" transform="translate(120.00,838.9) rotate(-90)">2018</text>
<text x="0.00" y="0.00" font-family="Liberation Sans, sans-serif" font-size="21.4" font-weight="normal" fill="#222" textLength="30.50" lengthAdjust="spacingAndGlyphs" stroke="#fff" stroke-width="0.6" transform="translate(162.58,838.9) rotate(-90)">2019</text>
<text x="0.00" y="0.00" font-family="Liberation Sans, sans-serif" font-size="21.4" font-weight="normal" fill="#222" textLength="30.50" lengthAdjust="spacingAndGlyphs" stroke="#fff" stroke-width="0.6" transform="translate(205.16,838.9) rotate(-90)">2020</text>
<text x="0.00" y="0.00" font-family="Liberation Sans, sans-serif" font-size="21.4" font-weight="normal" fill="#222" textLength="30.50" lengthAdjust="spacingAndGlyphs" stroke="#fff" stroke-width="0.6" transform="translate(247.74,838.9) rotate(-90)">2021</text>
<text x="0.00" y="0.00" font-family="Liberation Sans, sans-serif" font-size="21.4" font-weight="normal" fill="#222" textLength="30.50" lengthAdjust="spacingAndGlyphs" stroke="#fff" stroke-width="0.6" transform="translate(290.32,838.9) rotate(-90)">2022</text>
<text x="0.00" y="0.00" font-family="Liberation Sans, sans-serif" font-size="21.4" font-weight="normal" fill="#222" textLength="30.50" lengthAdjust="spacingAndGlyphs" stroke="#fff" stroke-width="0.6" transform="translate(332.90,838.9) rotate(-90)">2023</text>
<text x="0.00" y="0.00" font-family="Liberation Sans, sans-serif" font-size="21.4" font-weight="normal" fill="#222" textLength="30.50" lengthAdjust="spacingAndGlyphs" stroke="#fff" stroke-width="0.6" transform="translate(375.48,838.9) rotate(-90)">2024</text>
<text x="0.00" y="0.00" font-family="Liberation Sans, sans-serif" font-size="21.4" font-weight="normal" fill="#222" textLength="30.50" lengthAdjust="spacingAndGlyphs" stroke="#fff" stroke-width="0.6" transform="translate(418.06,838.9) rotate(-90)">2025</text>
<text x="0.00" y="0.00" font-family="Liberation Sans, sans-serif" font-size="21.4" font-weight="normal" fill="#222" textLength="30.50" lengthAdjust="spacingAndGlyphs" stroke="#fff" stroke-width="0.6" transform="translate(460.64,838.9) rotate(-90)">2026</text>
<text x="0.00" y="0.00" font-family="Liberation Sans, sans-serif" font-size="21.4" font-weight="normal" fill="#222" textLength="30.50" lengthAdjust="spacingAndGlyphs" stroke="#fff" stroke-width="0.6" transform="translate(503.22,838.9) rotate(-90)">2027</text>
<text x="0.00" y="0.00" font-family="Liberation Sans, sans-serif" font-size="21.4" font-weight="normal" fill="#222" textLength="30.50" lengthAdjust="spacingAndGlyphs" stroke="#fff" stroke-width="0.6" transform="translate(545.80,838.9) rotate(-90)">2028</text>
<text x="0.00" y="0.00" font-family="Liberation Sans, sans-serif" font-size="21.4" font-weight="normal" fill="#222" textLength="30.50" lengthAdjust="spacingAndGlyphs" stroke="#fff" stroke-width="0.6" transform="translate(588.38,838.9) rotate(-90)">2029</text>
<text x="0.00" y="0.00" font-family="Liberation Sans, sans-serif" font-size="21.4" font-weight="normal" fill="#222" textLength="30.50" lengthAdjust="spacingAndGlyphs" stroke="#fff" stroke-width="0.6" transform="translate(630.96,838.9) rotate(-90)">2030</text>
</svg>
</body></html>
